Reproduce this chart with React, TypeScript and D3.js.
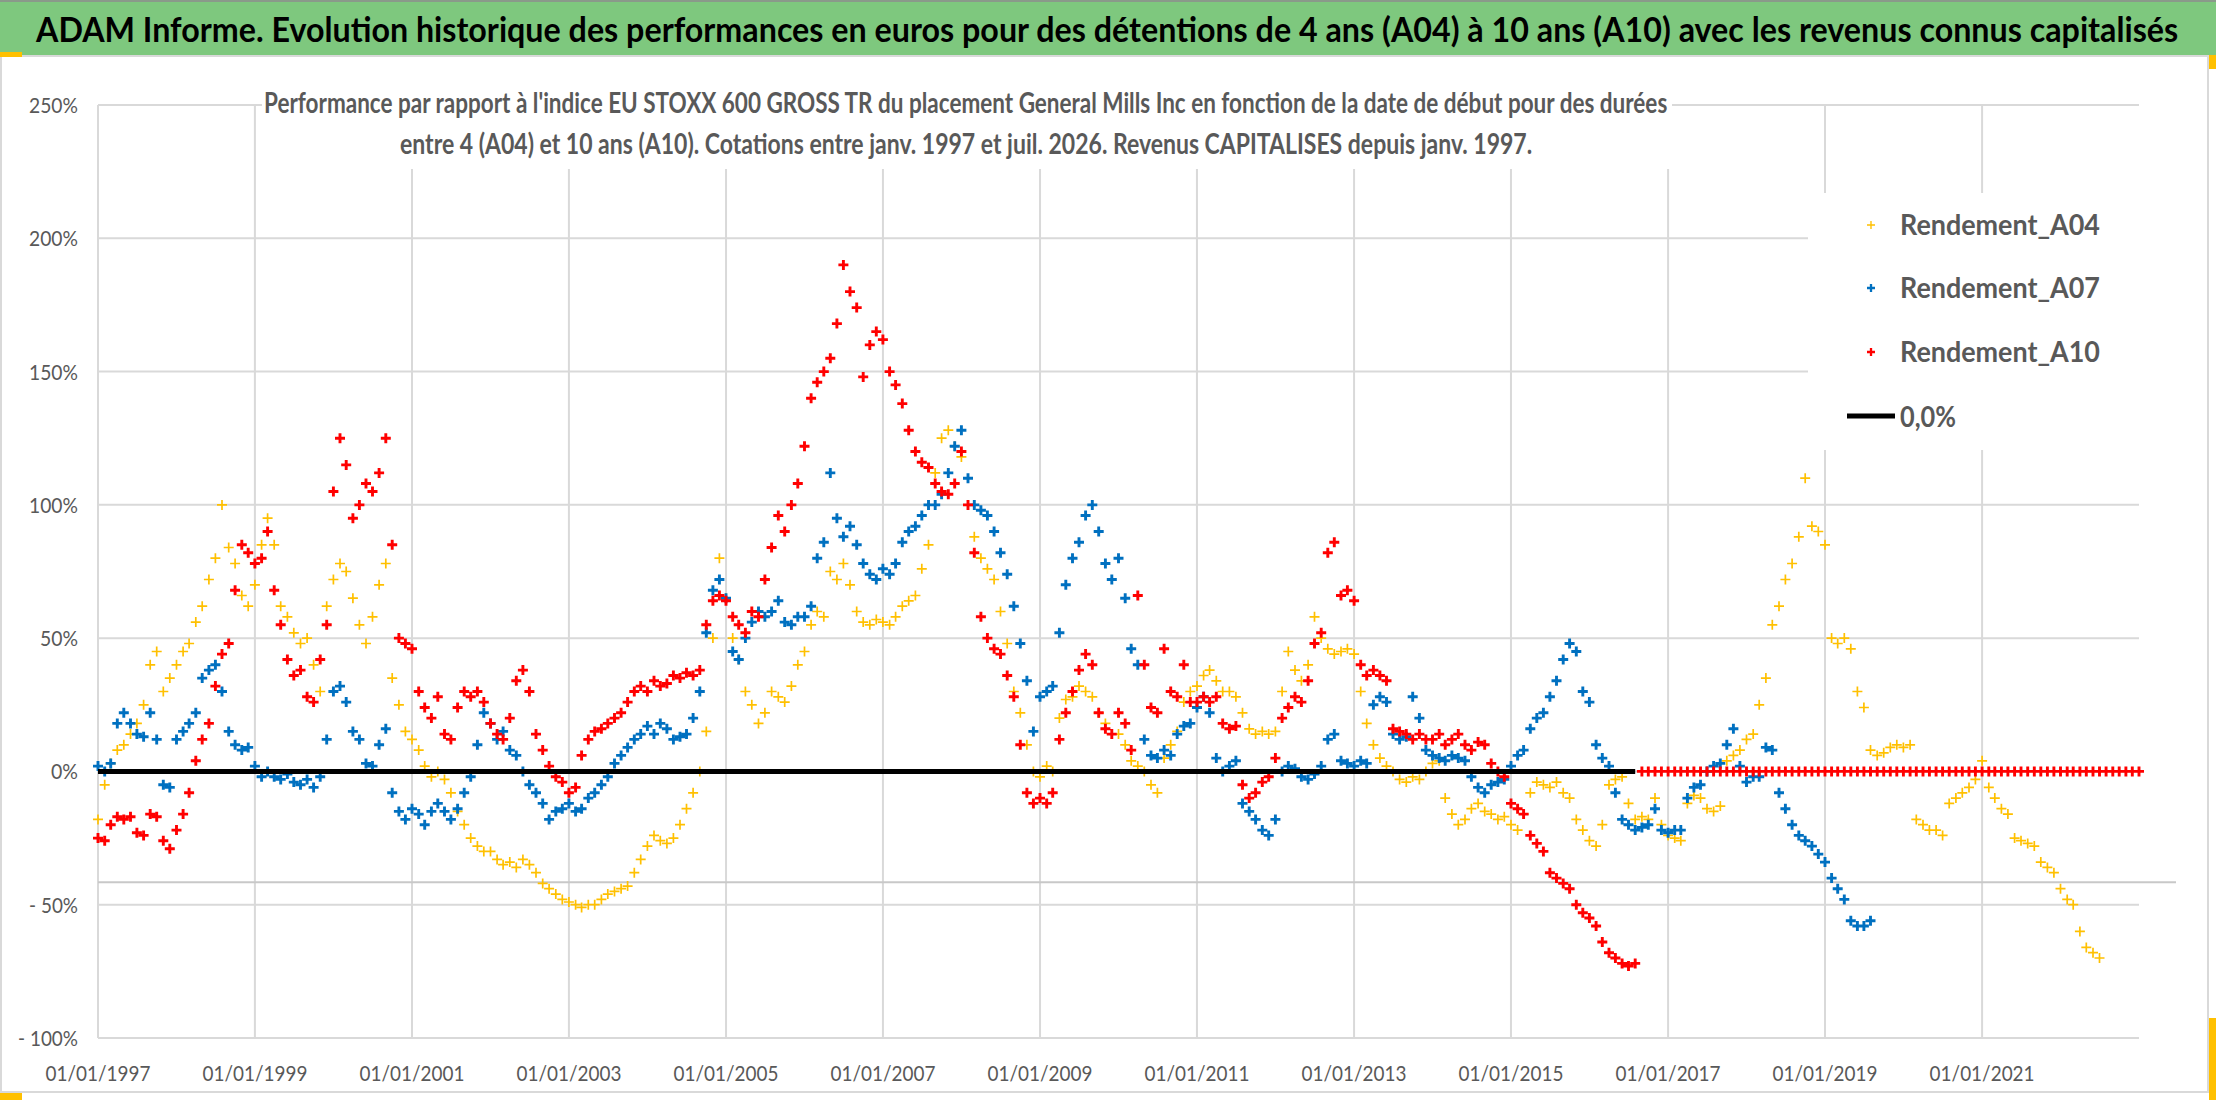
import React, { useEffect, useLayoutEffect, useRef, useState } from 'react';
import * as d3 from 'd3';

// ---------- DATA (monthly readings, first value = January 1997) ----------
const seriesStart = '1997-01-01';

const rendementA04: number[] = [
  -18, -5, 3, 8, 10, 14, 18, 25, 40, 45, 30, 35, // 1997
  40, 45, 48, 56, 62, 72, 80, 100, 84, 78, 66, 62, // 1998
  70, 85, 95, 85, 62, 58, 52, 48, 50, 40, 30, 62, // 1999
  72, 78, 75, 65, 55, 48, 58, 70, 78, 35, 25, 15, // 2000
  12, 8, 2, -2, 0, -3, -8, -15, -20, -25, -28, -30, // 2001
  -30, -33, -35, -34, -36, -33, -35, -38, -42, -44, -46, -48, // 2002
  -49, -50, -51, -50, -50, -48, -46, -45, -44, -43, -38, -33, // 2003
  -28, -24, -26, -27, -25, -20, -14, -8, 0, 15, 50, 80, // 2004
  65, 50, 42, 30, 25, 18, 22, 30, 28, 26, 32, 40, // 2005
  45, 55, 60, 58, 75, 72, 78, 70, 60, 56, 55, 57, // 2006
  56, 55, 58, 62, 64, 66, 76, 85, 112, 125, 128, 122, // 2007
  118, 100, 88, 80, 76, 72, 60, 48, 30, 22, 10, 0, // 2008
  -2, 2, 0, 20, 27, 28, 32, 30, 28, 22, 18, 14, // 2009
  14, 10, 4, 2, 0, -5, -8, 5, 10, 15, 26, 30, // 2010
  32, 36, 38, 34, 30, 30, 28, 22, 16, 14, 15, 14, // 2011
  15, 30, 45, 38, 34, 40, 58, 50, 46, 44, 45, 46, // 2012
  44, 30, 18, 10, 5, 2, 0, -3, -4, -2, -3, 0, // 2013
  3, 4, -10, -16, -20, -18, -14, -12, -15, -16, -18, -17, // 2014
  -20, -22, -16, -8, -4, -5, -6, -4, -8, -10, -18, -22, // 2015
  -26, -28, -20, -5, -3, -2, -12, -18, -17, -18, -10, -20, // 2016
  -24, -25, -26, -12, -9, -10, -14, -15, -13, 4, 6, 8, // 2017
  12, 14, 25, 35, 55, 62, 72, 78, 88, 110, 92, 90, // 2018
  85, 50, 48, 50, 46, 30, 24, 8, 6, 7, 9, 10, // 2019
  9, 10, -18, -20, -22, -22, -24, -12, -10, -8, -6, -3, // 2020
  4, -6, -10, -14, -16, -25, -26, -27, -28, -34, -36, -38, // 2021
  -44, -48, -50, -60, -66, -68, -70, // 2022
];

const rendementA07: number[] = [
  2, 0, 3, 18, 22, 18, 14, 13, 22, 12, -5, -6, // 1997
  12, 15, 18, 22, 35, 38, 40, 30, 15, 10, 8, 9, // 1998
  2, -2, 0, -2, -3, -1, -4, -5, -3, -6, -2, 12, // 1999
  30, 32, 26, 15, 12, 3, 2, 10, 16, -8, -15, -18, // 2000
  -14, -16, -20, -15, -12, -15, -18, -14, -8, -2, 10, 22, // 2001
  18, 12, 15, 8, 6, 0, -5, -8, -12, -18, -15, -14, // 2002
  -12, -15, -14, -10, -8, -5, -2, 3, 6, 9, 12, 14, // 2003
  17, 14, 18, 16, 12, 13, 14, 20, 30, 52, 68, 72, // 2004
  65, 45, 42, 50, 56, 60, 58, 60, 64, 56, 55, 58, // 2005
  58, 62, 80, 86, 112, 95, 88, 92, 85, 78, 74, 72, // 2006
  76, 74, 78, 86, 90, 92, 96, 100, 100, 104, 112, 122, // 2007
  128, 110, 100, 98, 96, 90, 82, 74, 62, 48, 34, 15, // 2008
  28, 30, 32, 52, 70, 80, 86, 96, 100, 90, 78, 72, // 2009
  80, 65, 46, 40, 12, 6, 5, 8, 6, 14, 17, 18, // 2010
  24, 28, 22, 5, 0, 2, 4, -12, -15, -18, -22, -24, // 2011
  -18, 0, 2, 1, -2, -3, -1, 2, 12, 14, 4, 3, // 2012
  2, 4, 3, 25, 28, 26, 14, 12, 13, 28, 20, 8, // 2013
  6, 5, 4, 6, 5, 4, -2, -6, -8, -5, -4, -3, // 2014
  2, 6, 8, 16, 20, 22, 28, 34, 42, 48, 45, 30, // 2015
  26, 10, 5, 2, -8, -18, -20, -22, -21, -20, -14, -22, // 2016
  -23, -22, -22, -10, -6, -5, 0, 2, 3, 10, 16, 2, // 2017
  -4, -2, -2, 9, 8, -8, -14, -20, -24, -26, -28, -31, // 2018
  -34, -40, -44, -48, -56, -58, -58, -56, // 2019
];

const rendementA10: number[] = [
  -25, -26, -20, -17, -18, -17, -23, -24, -16, -17, -26, -29, // 1997
  -22, -16, -8, 4, 12, 18, 32, 44, 48, 68, 85, 82, // 1998
  78, 80, 90, 68, 55, 42, 36, 38, 28, 26, 42, 55, // 1999
  105, 125, 115, 95, 100, 108, 105, 112, 125, 85, 50, 48, // 2000
  46, 30, 24, 20, 28, 14, 12, 24, 30, 28, 30, 26, // 2001
  18, 14, 12, 20, 34, 38, 30, 14, 8, 2, -2, -4, // 2002
  -8, -6, 6, 12, 15, 16, 18, 20, 22, 26, 30, 32, // 2003
  30, 34, 32, 33, 36, 35, 37, 36, 38, 55, 64, 66, // 2004
  64, 58, 55, 52, 60, 58, 72, 84, 96, 90, 100, 108, // 2005
  122, 140, 146, 150, 155, 168, 190, 180, 174, 148, 160, 165, // 2006
  162, 150, 145, 138, 128, 120, 116, 114, 108, 105, 104, 108, // 2007
  120, 100, 82, 58, 50, 46, 44, 36, 28, 10, -8, -12, // 2008
  -10, -12, -8, 12, 22, 30, 38, 44, 40, 22, 16, 14, // 2009
  22, 18, 8, 66, 40, 24, 22, 46, 30, 28, 40, 26, // 2010
  26, 28, 26, 28, 18, 16, 17, -5, -10, -8, -4, -2, // 2011
  5, 20, 24, 28, 26, 34, 48, 52, 82, 86, 66, 68, // 2012
  64, 40, 36, 38, 36, 34, 16, 15, 14, 12, 14, 12, // 2013
  12, 14, 10, 12, 14, 10, 8, 11, 10, 3, 0, -2, // 2014
  -12, -14, -16, -24, -27, -30, -38, -40, -42, -44, -50, -53, // 2015
  -55, -58, -64, -68, -70, -72, -73, -72, // 2016
];

// values shown as 0 after the last available 10-year window (Sep 2016 .. Jan 2023)
const rendementA10Tail: number[] = [
  0, 0, 0, 0, // 2016
  0, 0, 0, 0, 0, 0, 0, 0, 0, 0, 0, 0, // 2017
  0, 0, 0, 0, 0, 0, 0, 0, 0, 0, 0, 0, // 2018
  0, 0, 0, 0, 0, 0, 0, 0, 0, 0, 0, 0, // 2019
  0, 0, 0, 0, 0, 0, 0, 0, 0, 0, 0, 0, // 2020
  0, 0, 0, 0, 0, 0, 0, 0, 0, 0, 0, 0, // 2021
  0, 0, 0, 0, 0, 0, 0, 0, 0, 0, 0, 0, // 2022
  0, // 2023
];

const zeroLineLevel = 0;
const zeroLineDates = ['1997-01-01', '2016-08-01'];
const strayLineLevel = -41.6;

const xDomain = ['1997-01-01', '2023-01-01'];
const xTickYears = [1997, 1999, 2001, 2003, 2005, 2007, 2009, 2011, 2013, 2015, 2017, 2019, 2021];
const yTicks = [250, 200, 150, 100, 50, 0, -50, -100];

const titleText =
  'ADAM Informe. Evolution historique des performances en euros pour des détentions de 4 ans (A04) à 10 ans (A10) avec les revenus connus capitalisés';
const subtitleLines = [
  "Performance par rapport à l'indice EU STOXX 600 GROSS TR  du placement General Mills Inc en fonction de la date de début pour des durées",
  'entre 4 (A04) et 10 ans (A10). Cotations entre janv. 1997 et juil. 2026. Revenus CAPITALISES depuis janv. 1997.',
];
const legendNames = ['Rendement_A04', 'Rendement_A07', 'Rendement_A10'];
const legendLineName = '0,0%';

// ---------- LAYOUT / STYLE ----------
const W = 2216;
const H = 1102;
const PLOT = { left: 98, right: 2139, top: 105, bottom: 1038 };
const FONT = "Lato, 'Open Sans', 'DejaVu Sans', sans-serif";
const GRID = '#d9d9d9';
const TXT = '#595959';

const parse = (s: string) => {
  const [yy, mm, dd] = s.split('-').map(Number);
  return new Date(yy, mm - 1, dd);
};

function plusesPath(pts: { px: number; py: number }[], size: number) {
  const h = size / 2;
  return pts
    .map((p) => `M${(p.px - h).toFixed(1)},${p.py.toFixed(1)}h${size}M${p.px.toFixed(1)},${(p.py - h).toFixed(1)}v${size}`)
    .join('');
}

function yLabel(v: number) {
  return v < 0 ? `- ${-v}%` : `${v}%`;
}
function yLabelWidth(v: number) {
  const digits = String(Math.abs(v)).length;
  return (v < 0 ? 11 : 0) + digits * 11 + 16;
}

// Text horizontally scaled so that it occupies exactly `width` pixels.
function FitText(props: {
  x: number;
  y: number;
  width: number;
  anchor?: 'start' | 'middle' | 'end';
  fontSize: number;
  fontWeight?: number;
  fill: string;
  children: string;
}) {
  const ref = useRef<SVGTextElement>(null);
  const [sx, setSx] = useState(1);
  useLayoutEffect(() => {
    if (ref.current) {
      const w = ref.current.getComputedTextLength();
      if (w > 0) setSx(props.width / w);
    }
  }, [props.width, props.children, props.fontSize]);
  return (
    <text
      ref={ref}
      transform={`translate(${props.x},${props.y}) scale(${sx},1)`}
      x={0}
      y={0}
      fontSize={props.fontSize}
      fontWeight={props.fontWeight ?? 400}
      fill={props.fill}
      textAnchor={props.anchor ?? 'start'}
    >
      {props.children}
    </text>
  );
}

export default function App() {
  useEffect(() => {
    document.body.style.margin = '0';
  }, []);

  const start = parse(seriesStart);
  const x = d3.scaleTime().domain(xDomain.map(parse)).range([PLOT.left, PLOT.right]);
  const y = d3.scaleLinear().domain([-100, 250]).range([PLOT.bottom, PLOT.top]);

  const toPts = (vals: number[], offset = 0) =>
    vals.map((v, i) => {
      const d = d3.timeMonth.offset(start, offset + i);
      return { px: x(d), py: y(v) };
    });

  const series = [
    { name: legendNames[0], color: '#FFC000', sw: 1.7, pts: toPts(rendementA04) },
    { name: legendNames[1], color: '#0070C0', sw: 2.9, pts: toPts(rendementA07) },
    {
      name: legendNames[2],
      color: '#FF0000',
      sw: 2.9,
      pts: [...toPts(rendementA10), ...toPts(rendementA10Tail, rendementA10.length)],
    },
  ];

  const zeroLine = d3
    .line<Date>()
    .x((d) => x(d))
    .y(() => y(zeroLineLevel))(zeroLineDates.map(parse));

  const xTicks = xTickYears.map((yr) => new Date(yr, 0, 1));

  const legendRows = [
    { cy: 225, base: 235 },
    { cy: 288, base: 298 },
    { cy: 352, base: 362 },
  ];

  return (
    <svg
      width={W}
      height={H}
      viewBox={`0 0 ${W} ${H}`}
      style={{ position: 'absolute', left: 0, top: 0, display: 'block', background: '#fff' }}
      fontFamily={FONT}
    >
      <rect x={0} y={0} width={W} height={H} fill="#ffffff" />

      {/* title band */}
      <rect x={0} y={0} width={W} height={55} fill="#7ec87e" />
      <line x1={0} x2={W} y1={1} y2={1} stroke="#8a9a8a" strokeWidth={2} />
      <FitText x={36} y={42} width={2143} fontSize={35} fontWeight={700} fill="#000">
        {titleText}
      </FitText>

      {/* chart area border */}
      <rect x={1} y={56} width={2207} height={1036} fill="none" stroke={GRID} strokeWidth={2} />
      {/* selection handles */}
      <rect x={0} y={52} width={22} height={5} fill="#FFC000" />
      <rect x={2209} y={55} width={7} height={14} fill="#FFC000" />
      <rect x={2209} y={1018} width={7} height={82} fill="#FFC000" />
      <rect x={0} y={1093} width={22} height={7} fill="#FFC000" />

      {/* gridlines */}
      <g stroke={GRID} strokeWidth={2}>
        {yTicks.map((v) => (
          <line key={`h${v}`} x1={PLOT.left} x2={PLOT.right} y1={y(v)} y2={y(v)} />
        ))}
        {xTicks.map((d, i) => (
          <line key={`v${i}`} x1={x(d)} x2={x(d)} y1={PLOT.top} y2={PLOT.bottom} />
        ))}
      </g>
      <line
        x1={PLOT.left}
        x2={2176}
        y1={y(strayLineLevel)}
        y2={y(strayLineLevel)}
        stroke="#c8c8c8"
        strokeWidth={2}
      />

      {/* subtitle (white box over the plot) */}
      <rect x={262} y={80} width={1410} height={89} fill="#fff" />
      <FitText x={264} y={113} width={1404} fontSize={28} fontWeight={700} fill={TXT}>
        {subtitleLines[0]}
      </FitText>
      <FitText x={400} y={154} width={1133} fontSize={28} fontWeight={700} fill={TXT}>
        {subtitleLines[1]}
      </FitText>

      {/* data markers */}
      {series.map((s) => (
        <path key={s.name} d={plusesPath(s.pts, 10)} stroke={s.color} strokeWidth={s.sw} fill="none" />
      ))}

      {/* 0,0% line */}
      <path d={zeroLine || ''} stroke="#000" strokeWidth={5} fill="none" />

      {/* legend */}
      <rect x={1808} y={193} width={334} height={257} fill="#fff" />
      {series.map((s, i) => (
        <g key={`lg${i}`}>
          <path
            d={plusesPath([{ px: 1871, py: legendRows[i].cy }], 8)}
            stroke={s.color}
            strokeWidth={s.sw * 0.8}
            fill="none"
          />
          <FitText x={1900} y={legendRows[i].base} width={200} fontSize={28} fontWeight={700} fill={TXT}>
            {s.name}
          </FitText>
        </g>
      ))}
      <line x1={1847} x2={1895} y1={416} y2={416} stroke="#000" strokeWidth={5} />
      <FitText x={1900} y={427} width={56} fontSize={28} fontWeight={700} fill={TXT}>
        {legendLineName}
      </FitText>

      {/* y axis labels */}
      {yTicks.map((v) => (
        <FitText key={`yl${v}`} x={78} y={y(v) + 8} width={yLabelWidth(v)} anchor="end" fontSize={22} fill={TXT}>
          {yLabel(v)}
        </FitText>
      ))}

      {/* x axis labels */}
      {xTicks.map((d, i) => (
        <FitText key={`xl${i}`} x={x(d)} y={1081} width={105} anchor="middle" fontSize={22} fill={TXT}>
          {`01/01/${xTickYears[i]}`}
        </FitText>
      ))}
    </svg>
  );
}
